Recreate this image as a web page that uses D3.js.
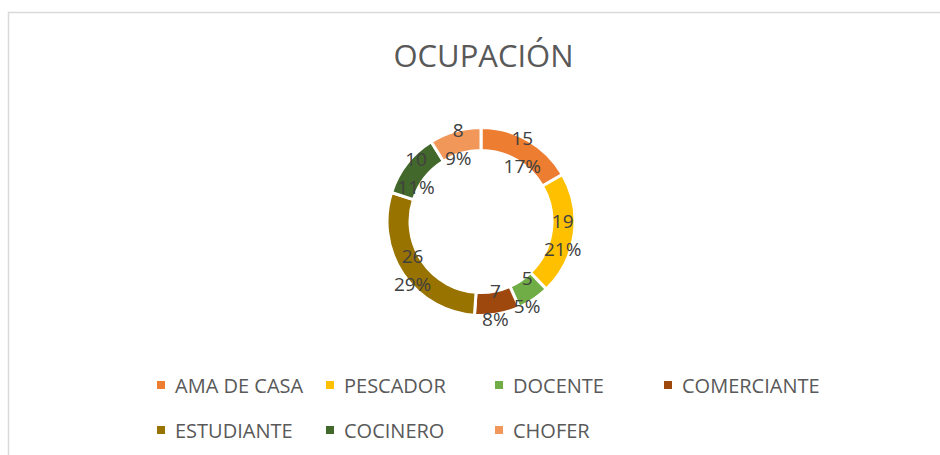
<!DOCTYPE html>
<html>
<head>
<meta charset="utf-8">
<script src="https://cdn.jsdelivr.net/npm/d3@7"></script>
<style>
  body { margin: 0; background: #fff; }
  text { font-family: 'Open Sans', sans-serif; }
</style>
</head>
<body>
<div id="chart"></div>
<script>
// data
const categories = ['AMA DE CASA', 'PESCADOR', 'DOCENTE', 'COMERCIANTE', 'ESTUDIANTE', 'COCINERO', 'CHOFER'];
const values = [15, 19, 5, 7, 26, 10, 8];
const percentLabels = ['17%', '21%', '5%', '8%', '29%', '11%', '9%'];
const colors = ['#ED7D31', '#FFC000', '#70AD47', '#9E480E', '#997300', '#43682B', '#F1975A'];

var width = 940,
    height = 455;
var cx = 481, cy = 221.5,
    outerR = 94, innerR = 71;

var svg = d3.select('#chart')
    .append('svg')
    .attr('width', width)
    .attr('height', height);

// chart area border
svg.append('rect')
    .attr('x', 8.5)
    .attr('y', 12.5)
    .attr('width', width)
    .attr('height', height)
    .attr('fill', '#fff')
    .attr('stroke', '#d9d9d9')
    .attr('stroke-width', 1.5);

svg.append('text')
    .attr('x', 483.5)
    .attr('y', 67)
    .attr('text-anchor', 'middle')
    .attr('font-size', 31)
    .attr('fill', '#595959')
    .text('OCUPACIÓN');

var pie = d3.pie().sort(null).value(d => d);
var arcs = pie(values);

var arc = d3.arc().innerRadius(innerR).outerRadius(outerR);
var labelArc = d3.arc().innerRadius((innerR + outerR) / 2).outerRadius((innerR + outerR) / 2);

var g = svg.append('g').attr('transform', 'translate(' + cx + ',' + cy + ')');

g.selectAll('path')
    .data(arcs)
    .enter()
    .append('path')
    .attr('d', arc)
    .attr('fill', (d, i) => colors[i])
    .attr('stroke', '#fff')
    .attr('stroke-width', 3);

var labels = g.selectAll('g.lbl')
    .data(arcs)
    .enter()
    .append('g')
    .attr('class', 'lbl')
    .attr('transform', d => 'translate(' + labelArc.centroid(d) + ')');

labels.append('text')
    .attr('text-anchor', 'middle')
    .attr('y', -5)
    .attr('font-size', 19)
    .attr('fill', '#404040')
    .text(d => d.data);

labels.append('text')
    .attr('text-anchor', 'middle')
    .attr('y', 23)
    .attr('font-size', 19)
    .attr('fill', '#404040')
    .text((d, i) => percentLabels[i]);

// legend: 4 columns, 2 rows
var colX = d3.scaleLinear().domain([0, 1]).range([157, 326]);
var rowY = d3.scaleLinear().domain([0, 1]).range([393, 438]);

var legend = svg.selectAll('g.legend')
    .data(categories)
    .enter()
    .append('g')
    .attr('class', 'legend')
    .attr('transform', (d, i) => 'translate(' + colX(i % 4) + ',' + rowY(Math.floor(i / 4)) + ')');

legend.append('rect')
    .attr('x', 0)
    .attr('y', -12)
    .attr('width', 8)
    .attr('height', 8)
    .attr('fill', (d, i) => colors[i]);

legend.append('text')
    .attr('x', 18)
    .attr('y', 0)
    .attr('font-size', 20)
    .attr('fill', '#595959')
    .text(d => d);
</script>
</body>
</html>
